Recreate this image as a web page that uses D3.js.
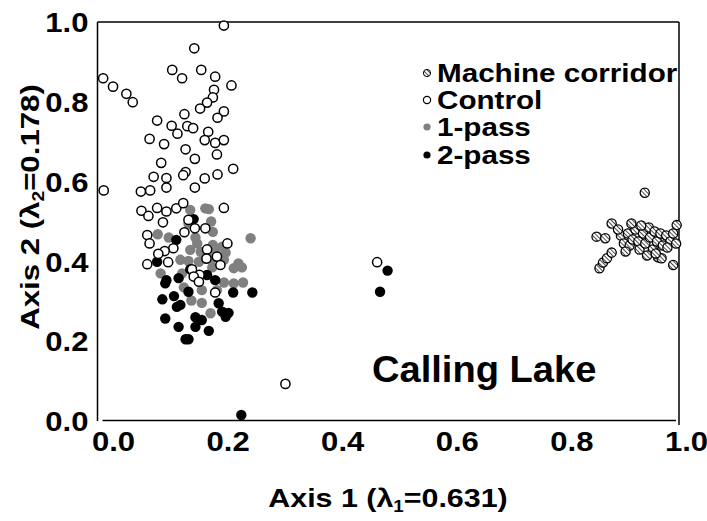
<!DOCTYPE html>
<html><head><meta charset="utf-8">
<script src="https://cdn.jsdelivr.net/npm/d3@7"></script>
<style>
body{margin:0;background:#fff;}
text{font-family:"Liberation Sans",Arial,sans-serif;font-weight:bold;fill:#000;}
</style></head>
<body><svg id="c" width="707" height="521"></svg>
<script>
const xTicks=[0,0.2,0.4,0.6,0.8,1.0];
const yTicks=[0,0.2,0.4,0.6,0.8,1.0];
const seriesNames=["Machine corridor","Control","1-pass","2-pass"];
const machine=[[0.941,0.572],[0.884,0.495],[0.996,0.491],[0.858,0.462],[0.873,0.458],[0.863,0.383],[0.869,0.397],[0.876,0.408],[0.884,0.422],[0.990,0.391],[0.964,0.410],[0.970,0.408],
[0.900,0.465],[0.905,0.445],[0.912,0.470],[0.915,0.440],[0.920,0.455],[0.925,0.480],[0.930,0.450],[0.932,0.430],[0.938,0.470],[0.942,0.445],[0.948,0.485],[0.950,0.460],[0.955,0.430],[0.958,0.475],[0.962,0.450],[0.968,0.470],[0.972,0.440],[0.978,0.465],[0.985,0.450],[0.990,0.470],[0.995,0.445],[0.908,0.425],[0.945,0.415],[0.960,0.420],[0.980,0.435],[0.895,0.480],[0.918,0.495],[0.935,0.490]];
const control=[[0.216,0.991],[0.165,0.934],[0.127,0.880],[0.177,0.880],[0.144,0.859],[0.201,0.863],[0.008,0.859],[0.025,0.838],[0.229,0.841],[0.048,0.820],[0.059,0.799],[0.199,0.830],[0.197,0.811],[0.187,0.798],[0.175,0.783],[0.216,0.776],[0.148,0.769],[0.205,0.760],[0.101,0.753],[0.126,0.740],[0.153,0.739],[0.163,0.734],[0.136,0.720],[0.189,0.725],[0.088,0.707],[0.183,0.704],[0.201,0.697],[0.216,0.704],[0.113,0.694],[0.150,0.681],[0.204,0.668],[0.166,0.657],[0.108,0.647],[0.232,0.632],[0.150,0.624],[0.146,0.616],[0.095,0.612],[0.117,0.609],[0.205,0.618],[0.183,0.608],[0.009,0.578],[0.073,0.575],[0.089,0.578],[0.117,0.585],[0.166,0.585],[0.216,0.534],[0.074,0.527],[0.101,0.534],[0.117,0.525],[0.134,0.533],[0.146,0.546],[0.086,0.514],[0.111,0.498],[0.155,0.504],[0.166,0.483],[0.184,0.483],[0.148,0.473],[0.084,0.466],[0.088,0.445],[0.129,0.433],[0.114,0.426],[0.103,0.419],[0.222,0.445],[0.187,0.430],[0.186,0.407],[0.204,0.412],[0.084,0.393],[0.120,0.398],[0.210,0.391],[0.161,0.380],[0.174,0.366],[0.164,0.362],[0.173,0.349],[0.201,0.322],[0.480,0.398],[0.322,0.093]];
const pass1=[[0.184,0.533],[0.190,0.531],[0.158,0.529],[0.194,0.500],[0.155,0.495],[0.197,0.474],[0.102,0.468],[0.121,0.460],[0.167,0.460],[0.262,0.458],[0.170,0.445],[0.197,0.441],[0.213,0.437],[0.158,0.429],[0.176,0.424],[0.201,0.427],[0.219,0.422],[0.141,0.404],[0.155,0.401],[0.173,0.399],[0.196,0.408],[0.216,0.404],[0.241,0.395],[0.247,0.385],[0.233,0.383],[0.107,0.370],[0.144,0.370],[0.196,0.385],[0.216,0.347],[0.233,0.345],[0.249,0.347],[0.147,0.335],[0.178,0.328],[0.204,0.328],[0.160,0.302],[0.178,0.296],[0.193,0.270]];
const pass2=[[0.164,0.506],[0.134,0.454],[0.101,0.399],[0.117,0.353],[0.138,0.358],[0.158,0.380],[0.187,0.366],[0.201,0.353],[0.115,0.345],[0.155,0.324],[0.232,0.322],[0.265,0.322],[0.110,0.305],[0.130,0.313],[0.141,0.291],[0.135,0.286],[0.207,0.295],[0.213,0.274],[0.224,0.271],[0.219,0.261],[0.115,0.257],[0.167,0.260],[0.178,0.253],[0.138,0.236],[0.167,0.236],[0.190,0.226],[0.150,0.205],[0.155,0.205],[0.498,0.377],[0.485,0.324],[0.246,0.015]];

const svg=d3.select("#c");
const defs=svg.append("defs");
const pat=defs.append("pattern").attr("id","hatch").attr("patternUnits","userSpaceOnUse").attr("width",3).attr("height",3).attr("patternTransform","rotate(-45)");
pat.append("rect").attr("width",3).attr("height",3).attr("fill","#fff");
pat.append("line").attr("x1",0).attr("y1",0).attr("x2",0).attr("y2",3).attr("stroke","#000").attr("stroke-width",1.4);

const L=97.5,R=679,T=22,B=421;
const x=d3.scaleLinear().domain([0,1]).range([L+1,R]);
const y=d3.scaleLinear().domain([0,1]).range([B,T]);
const xLab=d3.scaleLinear().domain([0,1]).range([113,686]);

// frame
svg.append("line").attr("x1",L).attr("x2",L).attr("y1",T).attr("y2",B).attr("stroke","#000").attr("stroke-width",1.5);
svg.append("line").attr("x1",L).attr("x2",R).attr("y1",T).attr("y2",T).attr("stroke","#000").attr("stroke-width",1.5);
svg.append("line").attr("x1",R).attr("x2",R).attr("y1",T).attr("y2",B+4).attr("stroke","#000").attr("stroke-width",1.5);
svg.append("line").attr("x1",L+5).attr("x2",R-3).attr("y1",B-0.5).attr("y2",B-0.5).attr("stroke","#000").attr("stroke-width",1.5);

// axes labels via d3 axes
const yAxis=svg.append("g").attr("transform",`translate(${L-9},0)`).call(d3.axisLeft(y).tickValues(yTicks).tickFormat(d3.format(".1f")).tickSize(0).tickPadding(0));
yAxis.select(".domain").remove();
yAxis.selectAll("text").attr("font-size",27).attr("dy","0.36em").attr("transform","scale(1.15,1)").style("font-family","Liberation Sans, Arial, sans-serif").style("font-weight","bold");
const xAxis=svg.append("g").attr("transform",`translate(0,${B+8})`).call(d3.axisBottom(xLab).tickValues(xTicks).tickFormat(d3.format(".1f")).tickSize(0).tickPadding(0));
xAxis.select(".domain").remove();
xAxis.selectAll("text").attr("font-size",27).attr("dy","0.82em").attr("transform","scale(1.15,1)").style("font-family","Liberation Sans, Arial, sans-serif").style("font-weight","bold");

// axis titles
const xt=svg.append("g").attr("transform","translate(388,507) scale(1.17,1)")
  .append("text").attr("text-anchor","middle").attr("font-size",26);
xt.append("tspan").text("Axis 1 (λ");
xt.append("tspan").attr("font-size",16).attr("dy",5).text("1");
xt.append("tspan").attr("dy",-5).text("=0.631)");
const yt=svg.append("g").attr("transform","translate(39,207) rotate(-90) scale(1.2,1)")
  .append("text").attr("text-anchor","middle").attr("font-size",26);
yt.append("tspan").text("Axis 2 (λ");
yt.append("tspan").attr("font-size",16).attr("dy",5).text("2");
yt.append("tspan").attr("dy",-5).text("=0.178)");

const r=4.6;
const g=svg.append("g");
g.selectAll(".mc").data(machine).join("circle").attr("cx",d=>x(d[0])).attr("cy",d=>y(d[1])).attr("r",r).attr("fill","url(#hatch)").attr("stroke","#000").attr("stroke-width",1.3);
g.selectAll(".p1").data(pass1).join("circle").attr("cx",d=>x(d[0])).attr("cy",d=>y(d[1])).attr("r",r+0.6).attr("fill","#808080");
g.selectAll(".p2").data(pass2).join("circle").attr("cx",d=>x(d[0])).attr("cy",d=>y(d[1])).attr("r",r+0.6).attr("fill","#000");
g.selectAll(".ct").data(control).join("circle").attr("cx",d=>x(d[0])).attr("cy",d=>y(d[1])).attr("r",r).attr("fill","#fff").attr("stroke","#000").attr("stroke-width",1.5);

// legend
const lg=svg.append("g");
const legY=[73,100,127,155];
const styles=[
 s=>s.attr("fill","url(#hatch)").attr("stroke","#000").attr("stroke-width",1),
 s=>s.attr("fill","#fff").attr("stroke","#000").attr("stroke-width",1.2),
 s=>s.attr("fill","#808080"),
 s=>s.attr("fill","#000")];
seriesNames.forEach((n,i)=>{
  styles[i](lg.append("circle").attr("cx",427).attr("cy",legY[i]).attr("r",3.6));
  lg.append("g").attr("transform",`translate(437,${legY[i]}) scale(1.14,1)`)
    .append("text").attr("dy","0.36em").attr("font-size",26).text(n);
});
svg.append("g").attr("transform","translate(372,382) scale(1.03,1)")
  .append("text").attr("font-size",37).text("Calling Lake");
</script></body></html>
